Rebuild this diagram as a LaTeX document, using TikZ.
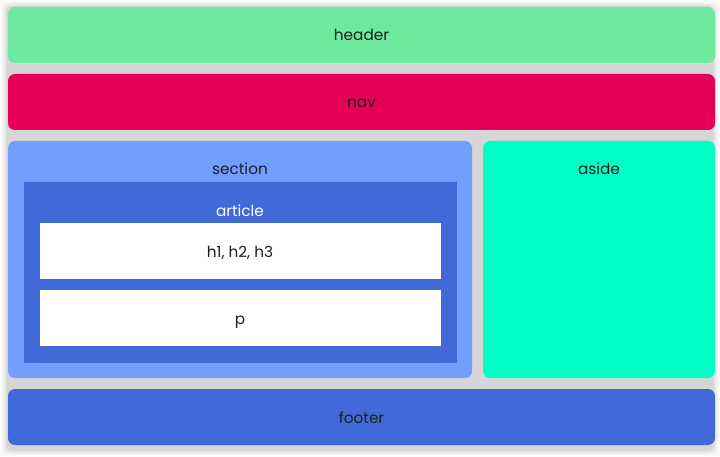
\documentclass[tikz,border=0pt]{standalone}
\usepackage{fontspec}
\setmainfont{Poppins}
\definecolor{bg}{HTML}{D6D6D6}
\definecolor{cheader}{HTML}{6DEA9E}
\definecolor{cnav}{HTML}{E80058}
\definecolor{csection}{HTML}{739DFF}
\definecolor{carticle}{HTML}{4169D8}
\definecolor{caside}{HTML}{00FFC4}
\definecolor{cfooter}{HTML}{4169D8}
\tikzset{
  box/.style={rounded corners=7pt},
  lbl/.style={font=\fontsize{15.3}{18}\selectfont, text=black!88, inner sep=0pt, anchor=base},
}
\begin{document}
\begin{tikzpicture}[x=1pt,y=-1pt]
\useasboundingbox (0,0) rectangle (720,457);
\fill[white!93!bg] (0,0) rectangle (720,457);
\fill[white!70!bg, rounded corners=6pt] (2,2) rectangle (718,455);
\fill[white!40!bg, rounded corners=6pt] (4,4) rectangle (716,453);
\fill[bg, rounded corners=6pt] (6,6) rectangle (714,451);
% boxes
\path[box, fill=cheader] (8,7) rectangle (715,63);
\path[box, fill=cnav] (8,74) rectangle (715,130);
\path[box, fill=csection] (8,141) rectangle (472,378);
\path[box, fill=caside] (483,141) rectangle (715,378);
\path[box, fill=cfooter] (8,389) rectangle (715,445);
\fill[carticle] (24,182) rectangle (457,363);
\fill[white] (40,223) rectangle (441,279);
\fill[white] (40,290) rectangle (441,346);
% labels
\node[lbl] (header) at (361.5,41) {header};
\node[lbl] (nav) at (361.5,108) {nav};
\node[lbl] (section) at (240,175) {section};
\node[lbl] (aside) at (599,175) {aside};
\node[lbl, text=white] (article) at (240,217) {article};
\node[lbl] (h) at (240,257) {h1, h2, h3};
\node[lbl] (p) at (240,324) {p};
\node[lbl] (footer) at (361.5,423) {footer};
\end{tikzpicture}
\end{document}
